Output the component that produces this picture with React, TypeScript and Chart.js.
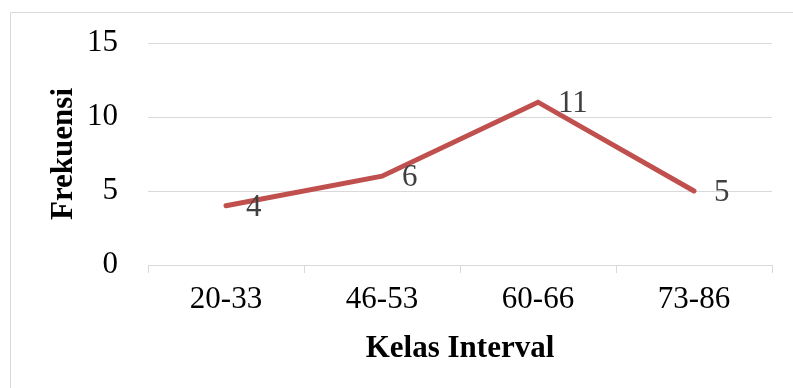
import React, { useEffect, useRef } from "react";
import { Chart, registerables } from "chart.js";

Chart.register(...registerables);

const categories = ["20-33", "46-53", "60-66", "73-86"];
const frekuensi = [4, 6, 11, 5];
const yTicks = [0, 5, 10, 15];

const FONT = "'Liberation Serif', 'Times New Roman', serif";

const framePlugin = {
  id: "frame",
  beforeDraw(chart: any) {
    const ctx = chart.ctx;
    ctx.save();
    ctx.fillStyle = "#ffffff";
    ctx.fillRect(0, 0, chart.width, chart.height);
    ctx.strokeStyle = "#d9d9d9";
    ctx.lineWidth = 1;
    ctx.beginPath();
    ctx.moveTo(10.5, chart.height);
    ctx.lineTo(10.5, 12.5);
    ctx.lineTo(chart.width, 12.5);
    ctx.stroke();
    ctx.restore();
  },
};

const labelPlugin = {
  id: "valueLabels",
  afterDatasetsDraw(chart: any) {
    const ctx = chart.ctx;
    const meta = chart.getDatasetMeta(0);
    const data = chart.data.datasets[0].data;
    ctx.save();
    ctx.font = `31px ${FONT}`;
    ctx.fillStyle = "#404040";
    ctx.textAlign = "left";
    ctx.textBaseline = "middle";
    meta.data.forEach((pt: any, i: number) => {
      ctx.fillText(String(data[i]), pt.x + 20, pt.y + 2);
    });
    ctx.restore();
  },
};

export default function App() {
  const ref = useRef<HTMLCanvasElement>(null);
  useEffect(() => {
    if (!ref.current) return;
    const chart = new Chart(ref.current, {
      type: "line",
      data: {
        labels: categories,
        datasets: [
          {
            data: frekuensi,
            borderColor: "#C0504D",
            backgroundColor: "#C0504D",
            borderWidth: 5,
            pointRadius: 0,
            tension: 0,
            borderCapStyle: "round",
            borderJoinStyle: "miter",
          },
        ],
      },
      options: {
        responsive: false,
        animation: false,
        devicePixelRatio: 1,
        layout: { padding: { left: 10, right: 21, top: 43, bottom: 0 } },
        plugins: { legend: { display: false }, tooltip: { enabled: false } },
        scales: {
          x: {
            offset: true,
            grid: {
              drawOnChartArea: false,
              drawTicks: true,
              tickLength: 8,
              color: "#d9d9d9",
              offset: true,
            },
            border: { display: true, color: "#d9d9d9", width: 1 },
            ticks: {
              color: "#000",
              font: { family: FONT, size: 31 },
              padding: 8,
              maxRotation: 0,
            },
            title: {
              display: true,
              text: "Kelas Interval",
              color: "#000",
              font: { family: FONT, size: 31, weight: "bold" },
              padding: { top: 0, bottom: 20 },
            },
            afterFit(scale: any) {
              scale.height = 123;
              scale.paddingLeft = 0;
              scale.paddingRight = 0;
            },
          },
          y: {
            min: 0,
            max: 15,
            afterBuildTicks(scale: any) {
              scale.ticks = yTicks.map((v) => ({ value: v }));
            },
            grid: { color: "#d9d9d9", drawTicks: false, lineWidth: 1 },
            border: { display: false },
            ticks: {
              color: "#000",
              font: { family: FONT, size: 31 },
              padding: 30,
            },
            title: {
              display: true,
              text: "Frekuensi",
              color: "#000",
              font: { family: FONT, size: 31, weight: "bold" },
              padding: { top: 35, bottom: 0 },
            },
            afterFit(scale: any) {
              scale.width = 138;
              scale.paddingTop = 0;
              scale.paddingBottom = 0;
            },
          },
        },
      },
      plugins: [framePlugin, labelPlugin],
    });
    return () => chart.destroy();
  }, []);
  return (
    <div style={{ position: "absolute", left: 0, top: 0, width: 793, height: 388 }}>
      <canvas ref={ref} width={793} height={388} style={{ width: 793, height: 388 }} />
    </div>
  );
}
